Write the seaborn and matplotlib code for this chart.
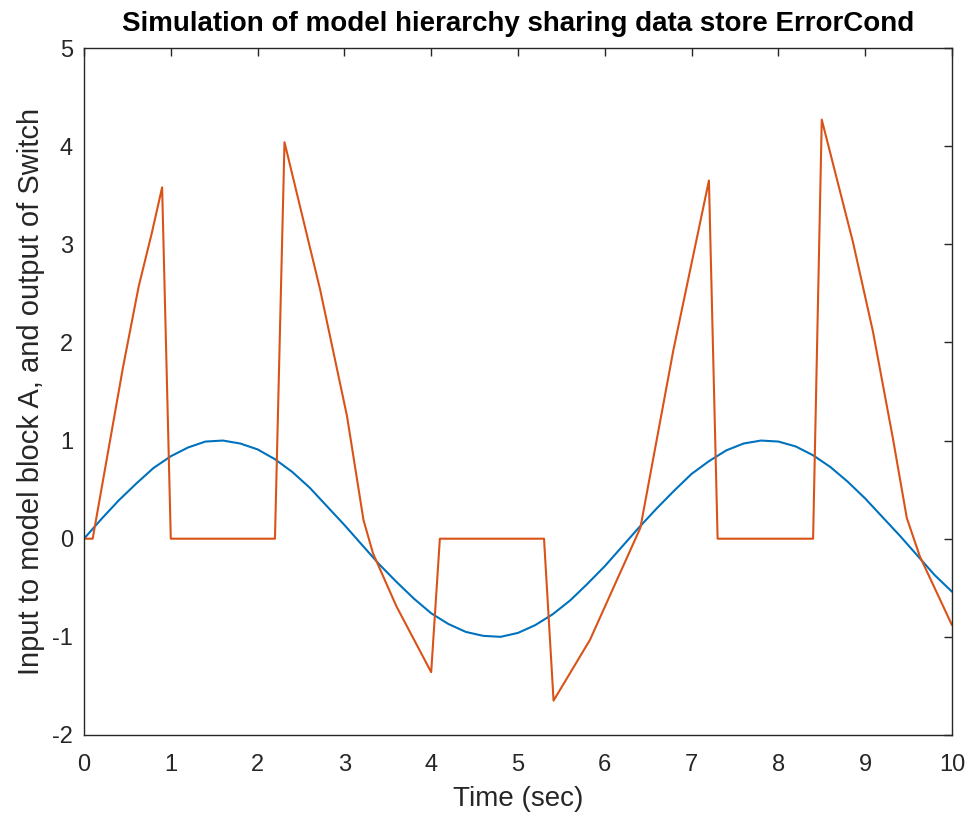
#!/usr/bin/env python3

from matplotlib import pyplot as plt
import seaborn as sns
import pandas as pd


title = "Simulation of model hierarchy sharing data store ErrorCond"
x_title = "Time (sec)"
y_title = "Input to model block A, and output of Switch"

# input signal (blue), every 0.2 s
input_time = [0.0, 0.2, 0.4, 0.6, 0.8, 1.0, 1.2, 1.4, 1.6, 1.8,
              2.0, 2.2, 2.4, 2.6, 2.8, 3.0, 3.2, 3.4, 3.6, 3.8,
              4.0, 4.2, 4.4, 4.6, 4.8, 5.0, 5.2, 5.4, 5.6, 5.8,
              6.0, 6.2, 6.4, 6.6, 6.8, 7.0, 7.2, 7.4, 7.6, 7.8,
              8.0, 8.2, 8.4, 8.6, 8.8, 9.0, 9.2, 9.4, 9.6, 9.8, 10.0]
input_value = [0.00, 0.20, 0.39, 0.56, 0.72, 0.84, 0.93, 0.99, 1.00, 0.97,
               0.91, 0.81, 0.68, 0.52, 0.33, 0.14, -0.06, -0.26, -0.44, -0.61,
               -0.76, -0.87, -0.95, -0.99, -1.00, -0.96, -0.88, -0.77, -0.63, -0.46,
               -0.28, -0.08, 0.12, 0.31, 0.49, 0.66, 0.79, 0.90, 0.97, 1.00,
               0.99, 0.94, 0.85, 0.73, 0.58, 0.41, 0.22, 0.03, -0.17, -0.37, -0.54]

# switch output (orange), corner points
switch_time = [0.0, 0.1, 0.45, 0.63, 0.78, 0.9, 1.0, 2.2, 2.31, 2.72, 3.03, 3.22,
               3.33, 3.6, 4.0, 4.1, 5.3, 5.41, 5.83, 6.14, 6.41, 6.79, 7.2, 7.3,
               8.4, 8.5, 8.86, 9.09, 9.32, 9.48, 9.63, 10.0]
switch_value = [0.0, 0.0, 1.75, 2.57, 3.11, 3.58, 0.0, 0.0, 4.04, 2.54, 1.25, 0.19,
                -0.15, -0.69, -1.36, 0.0, 0.0, -1.65, -1.03, -0.42, 0.11, 1.92, 3.65, 0.0,
                0.0, 4.27, 3.02, 2.11, 1.02, 0.21, -0.18, -0.88]

matlab_blue = "#0072BD"
matlab_orange = "#D95319"
axis_gray = "#262626"


def main():
    sns.set_theme(style="white")
    plt.rcParams["font.family"] = ["Liberation Sans", "DejaVu Sans"]
    plt.rcParams["axes.unicode_minus"] = False

    fig = plt.figure(figsize=(9.7, 8.18), dpi=100)
    ax = fig.add_axes([0.0866, 0.1015, 0.8948, 0.8398])

    df_in = pd.DataFrame({"t": input_time, "v": input_value})
    df_sw = pd.DataFrame({"t": switch_time, "v": switch_value})
    sns.lineplot(data=df_in, x="t", y="v", ax=ax, color=matlab_blue,
                 linewidth=1.5, sort=False, estimator=None)
    sns.lineplot(data=df_sw, x="t", y="v", ax=ax, color=matlab_orange,
                 linewidth=1.5, sort=False, estimator=None)

    ax.set_xlim(0, 10)
    ax.set_ylim(-2, 5)
    ax.set_xticks(range(0, 11))
    ax.set_yticks(range(-2, 6))
    ax.tick_params(direction="in", length=6, width=1, colors=axis_gray,
                   labelsize=17, top=True, right=True)
    ax.tick_params(axis="x", pad=14)
    ax.tick_params(axis="y", pad=8)
    for sp in ax.spines.values():
        sp.set_color(axis_gray)
        sp.set_linewidth(1.0)

    ax.set_xlabel(x_title, fontsize=20, color=axis_gray, labelpad=7)
    ax.set_ylabel(y_title, fontsize=21, color=axis_gray, labelpad=5)
    ax.set_title(title, fontsize=20, fontweight="bold", color="black", pad=12)

    fig.savefig("out.png", dpi=100)


if __name__ == "__main__":
    main()
